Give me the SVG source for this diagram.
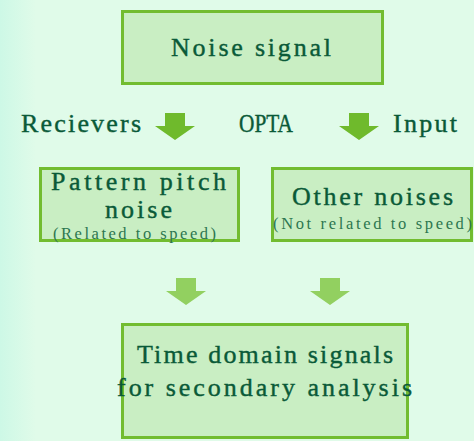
<svg xmlns="http://www.w3.org/2000/svg" width="474" height="441" viewBox="0 0 474 441">
<defs>
<linearGradient id="edge" x1="0" y1="0" x2="1" y2="0">
<stop offset="0" stop-color="#cdf8e6"/>
<stop offset="1" stop-color="#e0fbe9"/>
</linearGradient>
<style>
.box{fill:#c9eec3;stroke:#72bc30;stroke-width:3}
.t{font-family:"Liberation Serif","DejaVu Serif",serif;fill:#0a5a38}
.big{font-size:26px;stroke:#0a5a38;stroke-width:0.4}
.small{font-size:16.5px;fill:#2d7650}
.a1{fill:#6fba2c}
.a2{fill:#92d060}
</style>
</defs>
<rect x="0" y="0" width="474" height="441" fill="#e0fbe9"/>
<rect x="0" y="0" width="36" height="441" fill="url(#edge)"/>
<g id="noise-signal">
<rect class="box" x="122.5" y="11.5" width="260" height="72"/>
<text class="t big" x="171" y="56" textLength="160">Noise signal</text>
</g>
<g id="pattern-pitch">
<rect class="box" x="40.5" y="168.5" width="198" height="72"/>
<text class="t big" x="51" y="190" textLength="175">Pattern pitch</text>
<text class="t big" x="105" y="218" textLength="67">noise</text>
<text class="t small" x="53" y="238.5" textLength="163">(Related to speed)</text>
</g>
<g id="other-noises">
<rect class="box" x="272.5" y="168.5" width="199" height="72"/>
<text class="t big" x="292" y="205" textLength="161">Other noises</text>
<text class="t small" x="273" y="229" textLength="199">(Not related to speed)</text>
</g>
<g id="time-domain">
<rect class="box" x="122.5" y="324.5" width="285" height="113"/>
<text class="t big" x="137" y="363" textLength="256">Time domain signals</text>
<text class="t big" x="117" y="396" textLength="295">for secondary analysis</text>
</g>
<g id="labels">
<text class="t big" x="21" y="132" textLength="120">Recievers</text>
<text class="t big" x="239" y="132" textLength="54" lengthAdjust="spacingAndGlyphs">OPTA</text>
<text class="t big" x="393" y="132" textLength="64">Input</text>
</g>
<g id="connectors">
<polygon class="a1" points="165,113 185,113 185,126 195,126 175,140 155,126 165,126"/>
<polygon class="a1" points="349,113 369,113 369,126 379,126 359,140 339,126 349,126"/>
<polygon class="a2" points="176,278 196,278 196,291 206,291 186,305 166,291 176,291"/>
<polygon class="a2" points="320,278 340,278 340,291 350,291 330,305 310,291 320,291"/>
</g>
</svg>
